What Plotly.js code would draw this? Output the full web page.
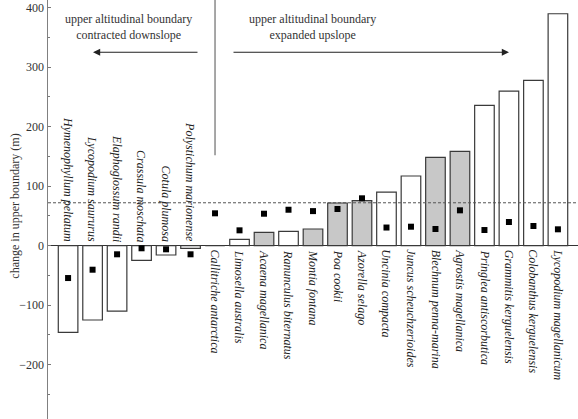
<!DOCTYPE html>
<html>
<head>
<meta charset="utf-8">
<script src="https://cdn.plot.ly/plotly-3.0.1.min.js"></script>
<style>html,body{margin:0;padding:0;background:#fff;}#chart{width:578px;height:419px;}</style>
</head>
<body>
<div id="chart"></div>
<script>
// Species (categories), ordered as in the figure
const species = [
  "Hymenophyllum peltatum", "Lycopodium saururus", "Elaphoglossum randii",
  "Crassula moschata", "Cotula plumosa", "Polystichum marionense",
  "Callitriche antarctica", "Limosella australis", "Acaena magellanica",
  "Ranunculus biternatus", "Montia fontana", "Poa cookii", "Azorella selago",
  "Uncinia compacta", "Juncus scheuchzerioides", "Blechnum penna-marina",
  "Agrostis magellanica", "Pringlea antiscorbutica", "Grammitis kerguelensis",
  "Colobanthus kerguelensis", "Lycopodium magellanicum"
];
// Change in upper boundary (m) – bars
const boundaryChange = [
  -145.7, -125, -110, -24.7, -15.8, -4.5,
  0, 10.6, 22.4, 24, 27.9, 71.6, 75.5,
  90, 117, 148.4, 158.5, 235.8, 259.8, 277.8, 389.7
];
// Second measure – black square markers
const markerValues = [
  -54.5, -40.5, -14.6, -4.5, -6.2, -14.6,
  54.3, 25.7, 53.6, 60.3, 58, 61.5, 79.5,
  30.4, 31.8, 27.9, 59.3, 26.2, 39.7, 33, 27.4
];
// Group membership (1 = shaded bar group)
const shadedGroup = [
  0, 0, 0, 0, 0, 0,
  0, 0, 1, 0, 1, 1, 1,
  0, 0, 1, 1, 0, 0, 0, 0
];
// Dashed reference level (m)
const referenceLevel = 72;
const yTickVals = [-200, -100, 0, 100, 200, 300, 400];
const yTitle = "change in upper boundary (m)";
const leftHeading = "upper altitudinal boundary<br>contracted downslope";
const rightHeading = "upper altitudinal boundary<br>expanded upslope";

const SERIF = "Liberation Serif, Times New Roman, serif";

const bars = {
  type: "bar",
  x: species,
  y: boundaryChange,
  marker: {
    color: shadedGroup.map(g => g ? "#c8c8c8" : "#ffffff"),
    line: {color: "#3a3a3a", width: 1.2}
  },
  width: 0.8,
  showlegend: false,
  hoverinfo: "skip"
};
const markers = {
  type: "scatter",
  mode: "markers",
  x: species,
  y: markerValues,
  marker: {symbol: "square", size: 6, color: "#000"},
  showlegend: false,
  hoverinfo: "skip"
};

const annotations = species.map((name, i) => ({
  x: name, y: 0, xref: "x", yref: "y",
  text: name, textangle: 90, showarrow: false,
  xanchor: "center",
  yanchor: boundaryChange[i] < 0 ? "bottom" : "top",
  yshift: boundaryChange[i] < 0 ? 2 : -2,
  font: {family: SERIF, size: 12, color: "#222", style: "italic"}
}));

const headFont = {family: SERIF, size: 12, color: "#333"};
annotations.push(
  {x: 2.46, y: 367.4, xref: "x", yref: "y", text: leftHeading, showarrow: false, font: headFont, align: "center"},
  {x: 9.98, y: 367.4, xref: "x", yref: "y", text: rightHeading, showarrow: false, font: headFont, align: "center"},
  // left arrow: head at paper x, tail offset in pixels
  {x: 0.0849, y: 325, xref: "paper", yref: "y", ax: 106, ay: 0,
   text: "", showarrow: true, arrowhead: 2, arrowsize: 1.2, arrowwidth: 1.2, arrowcolor: "#222", standoff: 0},
  {x: 0.8698, y: 325, xref: "paper", yref: "y", ax: -277, ay: 0,
   text: "", showarrow: true, arrowhead: 2, arrowsize: 1.2, arrowwidth: 1.2, arrowcolor: "#222", standoff: 0},
  {x: -0.064, y: 0.507, xref: "paper", yref: "paper", text: yTitle, textangle: -90,
   showarrow: false, xanchor: "center", yanchor: "middle", font: {family: SERIF, size: 12, color: "#333"}}
);

const layout = {
  width: 578, height: 419,
  margin: {l: 48, r: 0, t: 0, b: 0, pad: 0},
  paper_bgcolor: "#fff", plot_bgcolor: "#fff",
  bargap: 0.2,
  xaxis: {
    type: "category",
    range: [-0.82, 20.82],
    showticklabels: false, ticks: "", showgrid: false, zeroline: false, showline: false
  },
  yaxis: {
    range: [-291.4, 412.8],
    tickvals: yTickVals,
    ticks: "inside", ticklen: 3, tickcolor: "#777", tickwidth: 1,
    minor: {dtick: 50, tick0: 0, ticks: "inside", ticklen: 2, tickcolor: "#777"},
    showgrid: false,
    showline: true, linecolor: "#808080", linewidth: 1.5,
    zeroline: true, zerolinecolor: "#333", zerolinewidth: 1,
    tickfont: {family: SERIF, size: 12, color: "#333"},
    automargin: false
  },
  shapes: [
    {type: "line", xref: "paper", yref: "y", x0: 0, x1: 1, y0: referenceLevel, y1: referenceLevel,
     line: {color: "#555", width: 1, dash: "3px,2px"}},
    {type: "line", xref: "x", yref: "y", x0: 6, x1: 6, y0: 152, y1: 412.8,
     line: {color: "#8a8a8a", width: 1.5}}
  ],
  annotations: annotations,
  showlegend: false
};

Plotly.newPlot("chart", [bars, markers], layout, {staticPlot: true, displayModeBar: false});
</script>
</body>
</html>
